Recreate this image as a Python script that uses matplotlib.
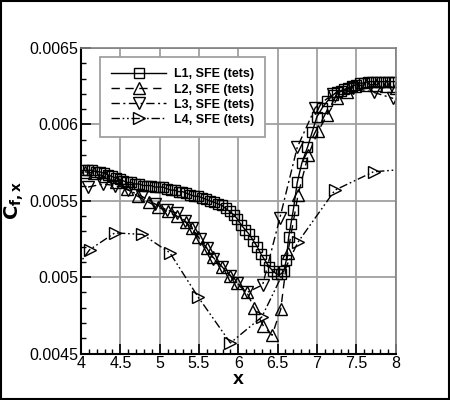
import numpy as np
import matplotlib
matplotlib.use("Agg")
import matplotlib.pyplot as plt
from matplotlib.ticker import MultipleLocator
from matplotlib.patches import Rectangle

plt.rcParams['font.family'] = ['Liberation Sans', 'DejaVu Sans']

# L1, SFE (tets) - squares, solid
l1_x = [4.04, 4.09, 4.14, 4.19, 4.24, 4.29, 4.34, 4.39, 4.44, 4.49,
        4.54, 4.59, 4.64, 4.69, 4.74, 4.79, 4.84, 4.89, 4.94, 4.99,
        5.04, 5.09, 5.14, 5.19, 5.24, 5.29, 5.34, 5.39, 5.44, 5.49,
        5.54, 5.59, 5.64, 5.69, 5.74, 5.79, 5.84, 5.89, 5.94, 5.99,
        6.04, 6.09, 6.14, 6.19, 6.24, 6.29, 6.34, 6.39, 6.44, 6.49,
        6.54, 6.58, 6.61, 6.64, 6.67, 6.70, 6.75, 6.81, 6.88, 6.94,
        7.00, 7.07, 7.13, 7.20, 7.25, 7.30, 7.35, 7.40, 7.45, 7.50,
        7.55, 7.60, 7.65, 7.70, 7.75, 7.80, 7.85, 7.90, 7.95, 7.99]
l1_y = [0.00570, 0.00570, 0.00570, 0.00569, 0.00569, 0.00568, 0.00567, 0.00566, 0.00565, 0.00564,
        0.00563, 0.00562, 0.00562, 0.00561, 0.00561, 0.00560, 0.00560, 0.00560, 0.00559, 0.00559,
        0.00559, 0.00558, 0.00557, 0.00557, 0.00556, 0.00556, 0.00555, 0.00554, 0.00553, 0.00553,
        0.00552, 0.00551, 0.00550, 0.00549, 0.00548, 0.00547, 0.00545, 0.00543, 0.00541, 0.00538,
        0.00534, 0.00531, 0.00528, 0.00524, 0.00520, 0.00515, 0.00511, 0.00507, 0.00504, 0.00502,
        0.00502, 0.00504, 0.00511, 0.00526, 0.00535, 0.00544, 0.00562, 0.00575, 0.00585, 0.00595,
        0.00605, 0.00611, 0.00615, 0.00619, 0.00621, 0.00622, 0.00623, 0.00624, 0.00625, 0.00626,
        0.00627, 0.00627, 0.00628, 0.00628, 0.00628, 0.00628, 0.00628, 0.00628, 0.00628, 0.00628]

# L2, SFE (tets) - triangles up, dashed
l2_x = [4.05, 4.17, 4.30, 4.44, 4.58, 4.72, 4.86, 4.98, 5.10, 5.22,
        5.33, 5.41, 5.49, 5.60, 5.68, 5.79, 5.90, 5.99, 6.11, 6.20,
        6.32, 6.43, 6.54, 6.63, 6.76, 6.89, 7.02, 7.13, 7.26, 7.38,
        7.49, 7.62, 7.75, 7.88, 8.00]
l2_y = [0.00569, 0.00568, 0.00566, 0.00562, 0.00558, 0.00553, 0.00549, 0.00546, 0.00543, 0.00540,
        0.00536, 0.00532, 0.00526, 0.00519, 0.00513, 0.00507, 0.00501, 0.00496, 0.00490, 0.00480,
        0.00468, 0.00462, 0.00479, 0.00516, 0.00554, 0.00580, 0.00596, 0.00606, 0.00617, 0.00621,
        0.00625, 0.00626, 0.00626, 0.00625, 0.00624]

# L3, SFE (tets) - triangles down, dash-dot
l3_x = [4.09, 4.28, 4.43, 4.60, 4.77, 4.94, 5.09, 5.22, 5.32, 5.41,
        5.51, 5.60, 5.68, 5.79, 5.90, 5.98, 6.11, 6.31, 6.53, 6.75,
        6.98, 7.21, 7.46, 7.72, 7.97]
l3_y = [0.00559, 0.00561, 0.00560, 0.00557, 0.00553, 0.00548, 0.00544, 0.00542, 0.00537, 0.00532,
        0.00525, 0.00519, 0.00512, 0.00507, 0.00501, 0.00496, 0.00490, 0.00495, 0.00539, 0.00585,
        0.00611, 0.00620, 0.00624, 0.00621, 0.00617]

# L4, SFE (tets) - triangles right, dash-dot-dot
l4_x = [3.75, 4.11, 4.43, 4.78, 5.13, 5.49, 5.90, 6.30, 6.76, 7.23, 7.72, 8.21]
l4_y = [0.00493, 0.00518, 0.00529, 0.00528, 0.00516, 0.00487, 0.00457, 0.00474, 0.00523, 0.00557, 0.00569, 0.00571]

series = [
    ("L1, SFE (tets)", l1_x, l1_y, 's', '-', 6.5),
    ("L2, SFE (tets)", l2_x, l2_y, '^', (0, (6, 4)), 8),
    ("L3, SFE (tets)", l3_x, l3_y, 'v', (0, (6, 2.5, 1.5, 2.5)), 8),
    ("L4, SFE (tets)", l4_x, l4_y, '>', (0, (6, 2, 1.2, 2, 1.2, 2)), 8),
]

fig = plt.figure(figsize=(4.5, 4.0), dpi=100)
ax = fig.add_axes([0.18, 0.116, 0.699, 0.764])

for label, xs, ys, mk, ls, ms in series:
    ax.plot(xs, ys, color='black', linestyle=ls, linewidth=1.0, marker=mk,
            markersize=ms, markerfacecolor='none', markeredgecolor='black',
            markeredgewidth=1.0, label=label)

ax.set_xlim(4, 8)
ax.set_ylim(0.0045, 0.0065)
ax.xaxis.set_minor_locator(MultipleLocator(0.1))
ax.yaxis.set_minor_locator(MultipleLocator(0.0001))
ax.set_xticks([4, 4.5, 5, 5.5, 6, 6.5, 7, 7.5, 8])
ax.set_xticklabels(['4', '4.5', '5', '5.5', '6', '6.5', '7', '7.5', '8'])
ax.set_yticks([0.0045, 0.005, 0.0055, 0.006, 0.0065])
ax.set_yticklabels(['0.0045', '0.005', '0.0055', '0.006', '0.0065'])

ax.grid(True, which='major', color='#a0a0a0', linewidth=1.3)
ax.set_axisbelow(True)
ax.tick_params(which='both', direction='in', top=False, right=False,
               labelsize=11.5, pad=2)
ax.tick_params(which='major', length=7, width=1.2)
ax.tick_params(which='minor', length=3.5, width=1.0)

for side in ['left', 'bottom']:
    ax.spines[side].set_linewidth(1.5)
    ax.spines[side].set_color('black')
for side in ['top', 'right']:
    ax.spines[side].set_linewidth(1.2)
    ax.spines[side].set_color('#808080')

ax.set_xlabel('x', fontsize=14, fontweight='bold', labelpad=0)
ax.set_ylabel(r'$\mathbf{C_{f,x}}$', fontsize=14, labelpad=2)

leg = ax.legend(loc='upper left', bbox_to_anchor=(0.06, 0.97), borderaxespad=0,
                prop={'weight': 'bold', 'size': 9}, handlelength=4.4,
                borderpad=0.9, labelspacing=0.25, handletextpad=0.6,
                fancybox=False, framealpha=1)
leg.get_frame().set_edgecolor('#a0a0a0')
leg.get_frame().set_linewidth(1.3)

fig.patches.append(Rectangle((0.003, 0.003), 0.994, 0.994, transform=fig.transFigure,
                             fill=False, edgecolor='black', linewidth=1.5))

fig.savefig('out.png', dpi=100)
